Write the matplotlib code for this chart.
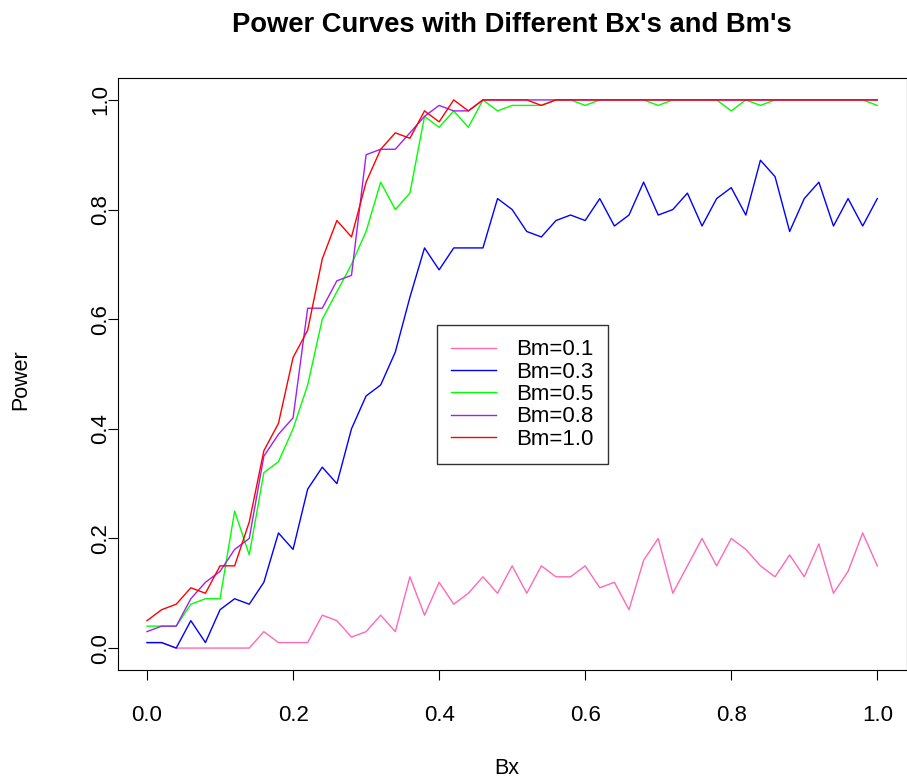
import numpy as np
import matplotlib
matplotlib.use("Agg")
import matplotlib.pyplot as plt

plt.rcParams['font.family'] = ['Liberation Sans', 'DejaVu Sans']

bx = [round(0.02 * i, 2) for i in range(51)]

bm01 = [0.01, 0.01, 0.00, 0.00, 0.00, 0.00, 0.00, 0.00, 0.03, 0.01,
        0.01, 0.01, 0.06, 0.05, 0.02, 0.03, 0.06, 0.03, 0.13, 0.06,
        0.12, 0.08, 0.10, 0.13, 0.10, 0.15, 0.10, 0.15, 0.13, 0.13,
        0.15, 0.11, 0.12, 0.07, 0.16, 0.20, 0.10, 0.15, 0.20, 0.15,
        0.20, 0.18, 0.15, 0.13, 0.17, 0.13, 0.19, 0.10, 0.14, 0.21,
        0.15]
bm03 = [0.01, 0.01, 0.00, 0.05, 0.01, 0.07, 0.09, 0.08, 0.12, 0.21,
        0.18, 0.29, 0.33, 0.30, 0.40, 0.46, 0.48, 0.54, 0.64, 0.73,
        0.69, 0.73, 0.73, 0.73, 0.82, 0.80, 0.76, 0.75, 0.78, 0.79,
        0.78, 0.82, 0.77, 0.79, 0.85, 0.79, 0.80, 0.83, 0.77, 0.82,
        0.84, 0.79, 0.89, 0.86, 0.76, 0.82, 0.85, 0.77, 0.82, 0.77,
        0.82]
bm05 = [0.04, 0.04, 0.04, 0.08, 0.09, 0.09, 0.25, 0.17, 0.32, 0.34,
        0.40, 0.48, 0.60, 0.65, 0.70, 0.76, 0.85, 0.80, 0.83, 0.97,
        0.95, 0.98, 0.95, 1.00, 0.98, 0.99, 0.99, 0.99, 1.00, 1.00,
        0.99, 1.00, 1.00, 1.00, 1.00, 0.99, 1.00, 1.00, 1.00, 1.00,
        0.98, 1.00, 0.99, 1.00, 1.00, 1.00, 1.00, 1.00, 1.00, 1.00,
        0.99]
bm08 = [0.03, 0.04, 0.04, 0.09, 0.12, 0.14, 0.18, 0.20, 0.35, 0.39,
        0.42, 0.62, 0.62, 0.67, 0.68, 0.90, 0.91, 0.91, 0.94, 0.97,
        0.99, 0.98, 0.98, 1.00, 1.00, 1.00, 1.00, 1.00, 1.00, 1.00,
        1.00, 1.00, 1.00, 1.00, 1.00, 1.00, 1.00, 1.00, 1.00, 1.00,
        1.00, 1.00, 1.00, 1.00, 1.00, 1.00, 1.00, 1.00, 1.00, 1.00,
        1.00]
bm10 = [0.05, 0.07, 0.08, 0.11, 0.10, 0.15, 0.15, 0.23, 0.36, 0.41,
        0.53, 0.58, 0.71, 0.78, 0.75, 0.85, 0.91, 0.94, 0.93, 0.98,
        0.96, 1.00, 0.98, 1.00, 1.00, 1.00, 1.00, 0.99, 1.00, 1.00,
        1.00, 1.00, 1.00, 1.00, 1.00, 1.00, 1.00, 1.00, 1.00, 1.00,
        1.00, 1.00, 1.00, 1.00, 1.00, 1.00, 1.00, 1.00, 1.00, 1.00,
        1.00]

series = [bm01, bm03, bm05, bm08, bm10]
labels = ["Bm=0.1", "Bm=0.3", "Bm=0.5", "Bm=0.8", "Bm=1.0"]
colors = ["#FF69B4", "#0000FF", "#00FF00", "#A020F0", "#FF0000"]
tick_vals = [0.0, 0.2, 0.4, 0.6, 0.8, 1.0]
tick_labels = ["0.0", "0.2", "0.4", "0.6", "0.8", "1.0"]

W, H = 907, 780
fig = plt.figure(figsize=(W / 100, H / 100), dpi=100)
ax = fig.add_axes([117.8 / W, 110 / H, 788.7 / W, 592 / H])

for ys, lab, c in zip(series, labels, colors):
    ax.plot(bx, ys, color=c, lw=1.0, label=lab)

ax.set_xlim(-0.04, 1.04)
ax.set_ylim(-0.04, 1.04)
ax.set_xticks(tick_vals)
ax.set_xticklabels(tick_labels)
ax.set_yticks(tick_vals)
ax.set_yticklabels(tick_labels, rotation=90, va='center')
ax.tick_params(direction='out', length=7, width=0.8, labelsize=16)
ax.tick_params(axis='x', pad=18)
ax.tick_params(axis='y', pad=-2.5)
for s in ax.spines.values():
    s.set_linewidth(0.8)

ax.set_xlabel("Bx", fontsize=15.5)
ax.xaxis.label.set_va('center')
ax.xaxis.set_label_coords(0.4935, (670 - 768) / 592)
ax.set_ylabel("Power", fontsize=15.5)
ax.yaxis.label.set_va('center')
ax.yaxis.set_label_coords((21 - 117.8) / 788.7, 0.49)
ax.set_title("Power Curves with Different Bx's and Bm's", fontsize=19.7,
             fontweight='bold', pad=33)

leg = ax.legend(loc='upper left', frameon=True, fancybox=False, fontsize=16,
                handlelength=2.0, handletextpad=0.93, borderpad=0.65,
                labelspacing=0.06, borderaxespad=0,
                bbox_to_anchor=(437 / W, 1 - 325 / H),
                bbox_transform=fig.transFigure)
leg.get_frame().set_edgecolor('black')
leg.get_frame().set_linewidth(1.0)

fig.savefig("out.png", dpi=100)
